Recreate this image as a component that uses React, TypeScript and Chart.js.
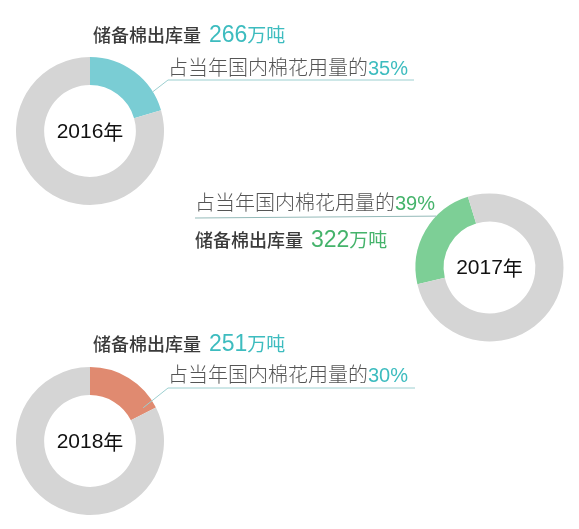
import React, { useEffect, useRef } from 'react';
import { Chart, registerables, Plugin } from 'chart.js';

Chart.register(...registerables);

// 储备棉出库量 (万吨) and share of that year's domestic cotton use (%)
const years = ['2016年', '2017年', '2018年'];
const releaseWan = [266, 322, 251];
const sharePct = [35, 39, 30];
// share of the ring actually painted in the picture
const arcShare = [20.5, 23.9, 17.5];

const W = 579;
const H = 529;

const CJK = '"Noto Sans CJK SC", sans-serif';
const LATIN = '"Liberation Sans", Arial, sans-serif';

type Layout = {
  cx: number;
  cy: number;
  r: number;
  rotation: number;
  slice: string;
  accent: string;
  line: string;
  textX: number;
  titleY: number;
  shareX: number;
  shareY: number;
  leaderAngle: number;
  leaderR: number;
  leader: [number, number][];
};

const layouts: Layout[] = [
  {
    cx: 90, cy: 131, r: 74, rotation: 0,
    slice: '#7acdd4', accent: '#3dbcbf', line: '#9ccfd0',
    textX: 93, titleY: 42, shareX: 168, shareY: 75,
    leaderAngle: 58, leaderR: 1,
    leader: [[168, 80], [414, 80]],
  },
  {
    cx: 489.5, cy: 267.5, r: 74, rotation: -103,
    slice: '#7dcf96', accent: '#45b36b', line: '#93b9b8',
    textX: 195, titleY: 247, shareX: 195, shareY: 210,
    leaderAngle: -46, leaderR: 1,
    leader: [[195, 218]],
  },
  {
    cx: 90, cy: 441, r: 74, rotation: 0,
    slice: '#e08a70', accent: '#3dbcbf', line: '#9ccfd0',
    textX: 93, titleY: 351, shareX: 168, shareY: 382,
    leaderAngle: 58, leaderR: 0.84,
    leader: [[168, 388], [415, 388]],
  },
];

type Run = { text: string; font: string; color: string; gap?: number };

function drawRuns(ctx: CanvasRenderingContext2D, x: number, y: number, runs: Run[]) {
  let cur = x;
  for (const run of runs) {
    ctx.font = run.font;
    ctx.fillStyle = run.color;
    ctx.fillText(run.text, cur, y);
    cur += ctx.measureText(run.text).width + (run.gap || 0);
  }
}

function drawCentre(ctx: CanvasRenderingContext2D, cx: number, cy: number, label: string) {
  const num = label.slice(0, 4);
  const unit = label.slice(4);
  ctx.font = `21px ${LATIN}`;
  const w1 = ctx.measureText(num).width;
  ctx.font = `20px ${CJK}`;
  const w2 = ctx.measureText(unit).width;
  const start = cx - (w1 + w2) / 2;
  ctx.textAlign = 'left';
  ctx.fillStyle = '#111111';
  ctx.font = `21px ${LATIN}`;
  ctx.fillText(num, start, cy);
  ctx.font = `20px ${CJK}`;
  ctx.fillText(unit, start + w1, cy);
}

function makeLabels(i: number): Plugin<'doughnut'> {
  return {
    id: 'labels' + i,
    afterDraw(chart) {
      const L = layouts[i];
      const ctx = chart.ctx;
      const arc = chart.getDatasetMeta(0).data[0] as any;
      const cx = arc.x;
      const cy = arc.y;
      const rad = L.leaderR === 1
        ? arc.outerRadius
        : arc.innerRadius + (arc.outerRadius - arc.innerRadius) * 0.6;
      const a = (L.leaderAngle * Math.PI) / 180;
      ctx.save();

      // leader line
      ctx.strokeStyle = L.line;
      ctx.lineWidth = 1;
      ctx.beginPath();
      ctx.moveTo(cx + rad * Math.sin(a), cy - rad * Math.cos(a));
      L.leader.forEach(([px, py]) => ctx.lineTo(px, py));
      ctx.stroke();

      ctx.textBaseline = 'middle';
      drawCentre(ctx, cx, cy + 1, years[i]);

      ctx.textAlign = 'left';
      ctx.textBaseline = 'alphabetic';
      drawRuns(ctx, L.textX, L.titleY, [
        { text: '储备棉出库量', font: `500 18px ${CJK}`, color: '#3a3a3a', gap: 8 },
        { text: String(releaseWan[i]), font: `23px ${LATIN}`, color: L.accent },
        { text: '万吨', font: `19px ${CJK}`, color: L.accent },
      ]);
      drawRuns(ctx, L.shareX, L.shareY, [
        { text: '占当年国内棉花用量的', font: `300 20px ${CJK}`, color: '#555555' },
        { text: sharePct[i] + '%', font: `20px ${LATIN}`, color: L.accent },
      ]);
      ctx.restore();
    },
  };
}

function Ring({ index }: { index: number }) {
  const canvasRef = useRef<HTMLCanvasElement>(null);
  const chartRef = useRef<Chart<'doughnut'> | null>(null);

  useEffect(() => {
    if (!canvasRef.current) return;
    if (chartRef.current) chartRef.current.destroy();
    const L = layouts[index];

    chartRef.current = new Chart(canvasRef.current, {
      type: 'doughnut',
      data: {
        labels: ['出库', '其他'],
        datasets: [{
          data: [arcShare[index], 100 - arcShare[index]],
          backgroundColor: [L.slice, '#d5d5d5'],
          borderWidth: 0,
        }],
      },
      options: {
        responsive: false,
        animation: false,
        cutout: '62%',
        rotation: L.rotation,
        layout: {
          padding: {
            left: L.cx - L.r,
            top: L.cy - L.r,
            right: W - (L.cx + L.r),
            bottom: H - (L.cy + L.r),
          },
        },
        plugins: {
          legend: { display: false },
          tooltip: { enabled: false },
        },
      },
      plugins: [makeLabels(index)],
    });

    return () => {
      if (chartRef.current) {
        chartRef.current.destroy();
        chartRef.current = null;
      }
    };
  }, [index]);

  return (
    <canvas
      ref={canvasRef}
      width={W}
      height={H}
      style={{ position: 'absolute', left: 0, top: 0, width: W, height: H }}
    />
  );
}

export default function App() {
  return (
    <div style={{ position: 'absolute', left: 0, top: 0, width: W, height: H, background: '#ffffff' }}>
      {years.map((_, i) => (
        <Ring key={i} index={i} />
      ))}
    </div>
  );
}
